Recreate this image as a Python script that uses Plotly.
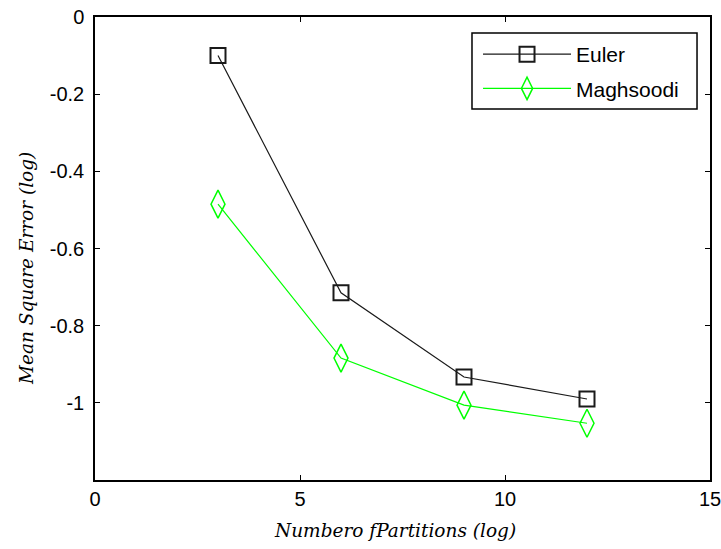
import plotly.graph_objects as go

partitions = [3, 6, 9, 12]
euler_mse = [-0.10, -0.715, -0.933, -0.99]
maghsoodi_mse = [-0.485, -0.884, -1.006, -1.053]

x_ticks = [0, 5, 10, 15]
y_ticks = [0, -0.2, -0.4, -0.6, -0.8, -1]
y_tick_labels = ["0", "-0.2", "-0.4", "-0.6", "-0.8", "-1"]

x_title = "Numbero fPartitions (log)"
y_title = "Mean Square Error (log)"

fig = go.Figure()
fig.add_trace(go.Scatter(
    x=partitions, y=euler_mse, name="Euler", mode="lines+markers",
    legendgroup="a",
    line=dict(color="#1a1a1a", width=1.2),
    marker=dict(symbol="square-open", size=15, color="#1a1a1a", line=dict(width=2)),
))
fig.add_trace(go.Scatter(
    x=partitions, y=maghsoodi_mse, name="Maghsoodi", mode="lines+markers",
    legendgroup="b",
    line=dict(color="#00ff00", width=1.2),
    marker=dict(symbol="diamond-tall-open", size=20, color="#00ff00", line=dict(width=1.5)),
))

axis_common = dict(
    showline=True, linecolor="black", linewidth=1.5, mirror="ticks",
    ticks="inside", ticklen=5, tickcolor="black", tickwidth=1,
    showgrid=False, zeroline=False, automargin=False,
    ticklabeloverflow="allow",
    tickfont=dict(family="Liberation Sans, Arial", size=20, color="black"),
)

title_font = dict(family="DejaVu Serif", size=18.5, color="black", style="italic")

fig.update_layout(
    width=721, height=549,
    margin=dict(l=95, r=11, t=17, b=69),
    paper_bgcolor="white", plot_bgcolor="white",
    xaxis=dict(range=[0, 15], tickvals=x_ticks, **axis_common),
    yaxis=dict(range=[-1.2, 0], tickvals=y_ticks, ticktext=y_tick_labels,
               ticklabelstandoff=5, **axis_common),
    legend=dict(x=0.6228, y=0.9633, xanchor="left", yanchor="top",
                borderwidth=0, bgcolor="rgba(0,0,0,0)",
                font=dict(family="Liberation Sans, Arial", size=21, color="black"),
                itemwidth=88, tracegroupgap=4),
    shapes=[
        dict(type="rect", xref="paper", yref="paper",
             x0=0.613, x1=0.9789, y0=0.8013, y1=0.9654,
             line=dict(color="black", width=1.5), fillcolor="white", layer="above"),
    ],
    annotations=[
        dict(text=x_title, xref="paper", yref="paper", x=0.488, y=-0.108,
             xanchor="center", yanchor="middle", showarrow=False, font=title_font),
        dict(text=y_title, xref="paper", yref="paper", x=-0.1106, y=0.458,
             xanchor="center", yanchor="middle", showarrow=False, textangle=-90,
             font=title_font),
    ],
)

fig.write_html("out.html")
